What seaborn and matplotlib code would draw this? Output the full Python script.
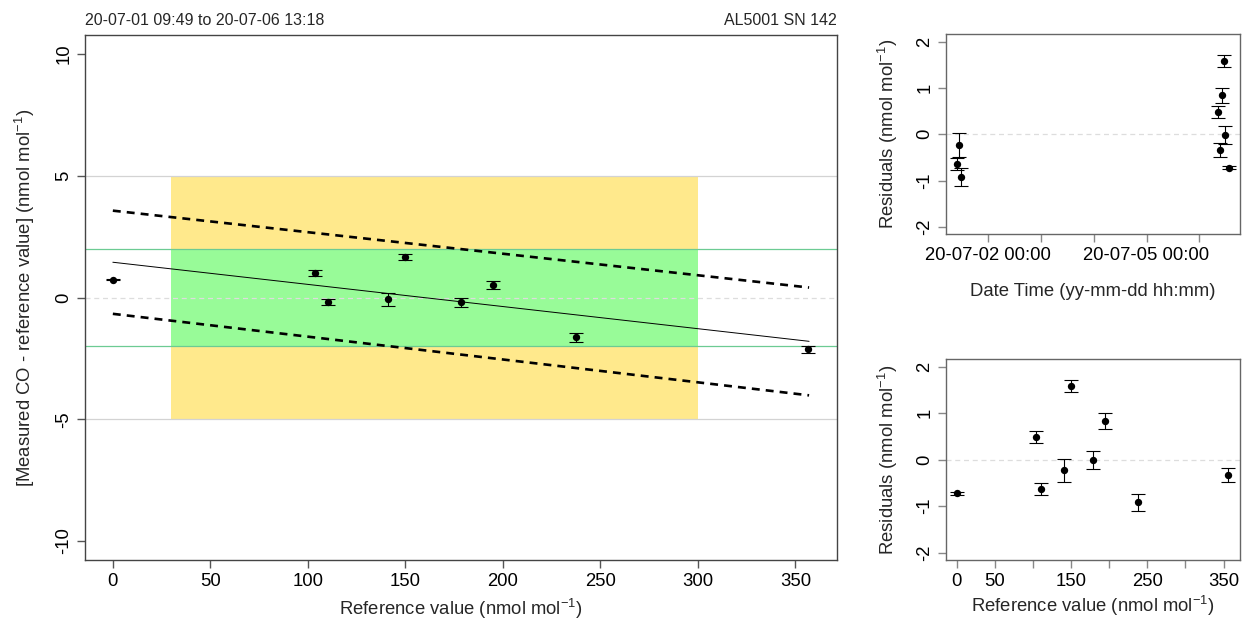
import numpy as np
import pandas as pd
import matplotlib
matplotlib.use("Agg")
import matplotlib.pyplot as plt
import matplotlib.dates as mdates
import seaborn as sns
from datetime import datetime

# ---------------- data ----------------
ref_value = [0.3, 103.5, 110.5, 141.0, 150.0, 178.5, 195.0, 237.5, 356.5]
deviation = [0.73, 1.00, -0.19, -0.08, 1.67, -0.19, 0.50, -1.64, -2.13]
dev_err = [0.03, 0.13, 0.13, 0.25, 0.13, 0.19, 0.17, 0.19, 0.15]
residual = [-0.72, 0.49, -0.64, -0.23, 1.58, -0.01, 0.84, -0.92, -0.33]
times = ["2020-07-06 13:18", "2020-07-06 08:28", "2020-07-01 09:49",
         "2020-07-01 10:49", "2020-07-06 11:03", "2020-07-06 11:40",
         "2020-07-06 10:18", "2020-07-01 11:36", "2020-07-06 09:23"]

fit_x = [0, 357]
fit_y = [1.45, -1.80]
upper_y = [3.57, 0.41]
lower_y = [-0.67, -4.02]

main_xticks = [0, 50, 100, 150, 200, 250, 300, 350]
main_yticks = [-10, -5, 0, 5, 10]
res_yticks = [-2, -1, 0, 1, 2]
res_xtick_labels = ["0", "50", "", "150", "", "250", "", "350"]
time_ticks = ["2020-07-02", "2020-07-03", "2020-07-04", "2020-07-05", "2020-07-06"]
time_tick_labels = ["20-07-02 00:00", "", "", "20-07-05 00:00", ""]

title_left = "20-07-01 09:49 to 20-07-06 13:18"
title_right = "AL5001 SN 142"

df = pd.DataFrame({"ref": ref_value, "dev": deviation, "err": dev_err,
                   "res": residual, "time": pd.to_datetime(times)})
fit_df = pd.DataFrame({"x": fit_x, "fit": fit_y, "up": upper_y, "lo": lower_y})

# ---------------- style ----------------
sns.set_theme(style="white")
plt.rcParams["font.family"] = ["Liberation Sans", "DejaVu Sans"]
plt.rcParams["mathtext.fontset"] = "custom"
plt.rcParams["mathtext.rm"] = "Liberation Sans"
plt.rcParams["mathtext.it"] = "Liberation Sans:italic"
plt.rcParams["mathtext.default"] = "regular"
plt.rcParams["axes.unicode_minus"] = False

FS = 13.3
unit = r"(nmol mol$^{-1}$)"

fig = plt.figure(figsize=(12.42, 6.21), dpi=100)
ax = fig.add_axes([0.0684, 0.0977, 0.6055, 0.8464])
ax_t = fig.add_axes([0.7617, 0.6227, 0.2363, 0.3221])
ax_b = fig.add_axes([0.7617, 0.0982, 0.2365, 0.3232])


def style_axes(a, spine_col, tick_col):
    for s in a.spines.values():
        s.set_color(spine_col)
        s.set_linewidth(1.0)
    a.tick_params(axis="both", which="both", direction="out", length=6,
                  width=1.0, color=tick_col, labelsize=FS, labelcolor="black",
                  bottom=True, left=True, pad=3)
    a.grid(False)


# ---------------- main panel ----------------
ax.fill_between([30, 300], -5, 5, color="#FFE98C", lw=0, zorder=0)
ax.fill_between([30, 300], -2, 2, color="#98FB98", lw=0, zorder=0.5)
for yv in (5, -5):
    ax.axhline(yv, color="#D3D3D3", lw=0.9, zorder=1)
for yv in (2, -2):
    ax.axhline(yv, color="#6CCB93", lw=0.9, zorder=1)
ax.axhline(0, color="#DDDDDD", lw=0.9, ls=(0, (4, 3)), zorder=1)

sns.lineplot(data=fit_df, x="x", y="fit", ax=ax, color="black", lw=0.7, zorder=2)
sns.lineplot(data=fit_df, x="x", y="up", ax=ax, color="black", lw=1.9,
             linestyle=(0, (3.0, 2.3)), zorder=2)
sns.lineplot(data=fit_df, x="x", y="lo", ax=ax, color="black", lw=1.9,
             linestyle=(0, (3.0, 2.3)), zorder=2)
ax.errorbar(df["ref"], df["dev"], yerr=df["err"], fmt="none", ecolor="black",
            elinewidth=0.8, capsize=4.7, capthick=0.8, zorder=3)
sns.scatterplot(data=df, x="ref", y="dev", ax=ax, color="black", s=28,
                edgecolor="black", linewidth=0, zorder=4)

ax.set_xlim(-14.3, 371.3)
ax.set_ylim(-10.8, 10.8)
ax.set_xticks(main_xticks)
ax.set_yticks(main_yticks)
style_axes(ax, "#444444", "#555555")
for lab in ax.get_yticklabels():
    lab.set_rotation(90)
    lab.set_va("center")
ax.set_xlabel("Reference value " + unit, fontsize=FS, labelpad=5)
ax.set_ylabel("[Measured CO - reference value] " + unit, fontsize=FS, labelpad=13)
ax.text(0.0, 1.012, title_left, transform=ax.transAxes, ha="left", va="bottom",
        fontsize=11.5, family=["Liberation Sans Narrow", "Liberation Sans"])
ax.text(1.0, 1.012, title_right, transform=ax.transAxes, ha="right", va="bottom",
        fontsize=11.5, family=["Liberation Sans Narrow", "Liberation Sans"])

# ---------------- residuals vs time ----------------
ax_t.axhline(0, color="#DDDDDD", lw=0.9, ls=(0, (4, 3)), zorder=1)
ax_t.errorbar(df["time"], df["res"], yerr=df["err"], fmt="none", ecolor="black",
              elinewidth=0.8, capsize=4.7, capthick=0.8, zorder=3)
sns.scatterplot(data=df, x="time", y="res", ax=ax_t, color="black", s=28,
                linewidth=0, zorder=4)
t0 = mdates.date2num(datetime(2020, 7, 1, 9, 49))
t1 = mdates.date2num(datetime(2020, 7, 6, 13, 18))
pad = 0.04 * (t1 - t0)
ax_t.set_xlim(t0 - pad, t1 + pad)
ax_t.set_ylim(-2.16, 2.16)
ax_t.set_xticks([mdates.date2num(pd.Timestamp(t)) for t in time_ticks])
ax_t.set_xticklabels(time_tick_labels)
ax_t.set_yticks(res_yticks)
style_axes(ax_t, "#666666", "#888888")
for lab in ax_t.get_yticklabels():
    lab.set_rotation(90)
    lab.set_va("center")
ax_t.set_xlabel("Date Time (yy-mm-dd hh:mm)", fontsize=FS, labelpad=14)
ax_t.set_ylabel("Residuals " + unit, fontsize=FS, labelpad=12)

# ---------------- residuals vs reference ----------------
ax_b.axhline(0, color="#DDDDDD", lw=0.9, ls=(0, (4, 3)), zorder=1)
ax_b.errorbar(df["ref"], df["res"], yerr=df["err"], fmt="none", ecolor="black",
              elinewidth=0.8, capsize=4.7, capthick=0.8, zorder=3)
sns.scatterplot(data=df, x="ref", y="res", ax=ax_b, color="black", s=28,
                linewidth=0, zorder=4)
ax_b.set_xlim(-14.3, 371.3)
ax_b.set_ylim(-2.16, 2.16)
ax_b.set_xticks(main_xticks)
ax_b.set_xticklabels(res_xtick_labels)
ax_b.set_yticks(res_yticks)
style_axes(ax_b, "#666666", "#888888")
for lab in ax_b.get_yticklabels():
    lab.set_rotation(90)
    lab.set_va("center")
ax_b.set_xlabel("Reference value " + unit, fontsize=FS, labelpad=3)
ax_b.set_ylabel("Residuals " + unit, fontsize=FS, labelpad=12)

fig.savefig("out.png", dpi=100)
